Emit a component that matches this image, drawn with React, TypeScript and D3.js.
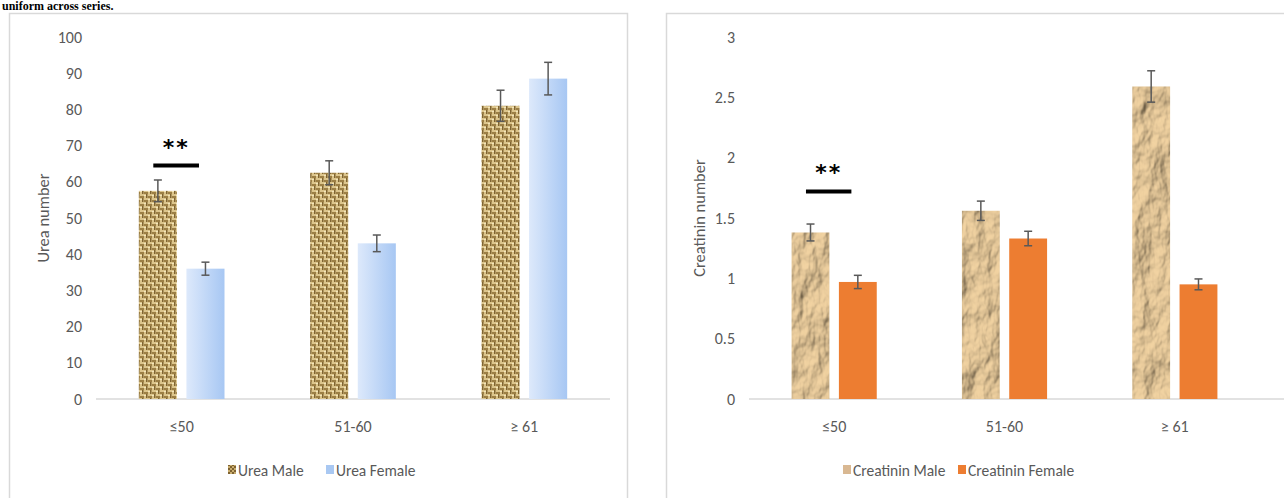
import React from "react";
import * as d3 from "d3";

const categories = ["≤50", "51-60", "≥ 61"];

const ureaMale = [57.5, 62.5, 81];
const ureaFemale = [36, 43, 88.5];
const ureaMaleErr = [3, 3.3, 4.3];
const ureaFemaleErr = [1.8, 2.3, 4.5];
const ureaTicks = [0, 10, 20, 30, 40, 50, 60, 70, 80, 90, 100];

const creaMale = [1.38, 1.56, 2.59];
const creaFemale = [0.97, 1.33, 0.95];
const creaMaleErr = [0.07, 0.08, 0.13];
const creaFemaleErr = [0.055, 0.06, 0.045];
const creaTicks = [0, 0.5, 1, 1.5, 2, 2.5, 3];

const FONT = "Carlito, Calibri, 'Open Sans', sans-serif";
const GREY = "#595959";

type PanelProps = {
  x0: number;
  x1: number;
  lineEnd: number;
  yMax: number;
  ticks: number[];
  male: number[];
  female: number[];
  maleErr: number[];
  femaleErr: number[];
  maleFill: string;
  femaleFill: string;
  maleFilter?: string;
  title: string;
  titleX: number;
  sigValue: number;
  legend: { male: string; female: string; mx: number; fx: number; maleSwatch: string; femaleSwatch: string };
};

function Panel(p: PanelProps) {
  const y = d3.scaleLinear().domain([0, p.yMax]).range([399, 37]);
  const x = d3.scaleBand<string>().domain(categories).range([p.x0, p.x1]).paddingInner(0).paddingOuter(0);
  const inner = d3.scaleBand<string>().domain(["m", "f"]).range([x.bandwidth() * 0.25, x.bandwidth() * 0.75]).paddingInner(0.2);
  const fmt = d3.format("~g");
  const sigX0 = (x(categories[0]) as number) + inner("m")! + inner.bandwidth() * 0.38;
  const sigX1 = sigX0 + inner.bandwidth() * 1.2;
  const err = (cx: number, v: number, e: number) => (
    <g stroke={GREY} strokeWidth={1.5}>
      <line x1={cx} x2={cx} y1={y(v + e)} y2={y(v - e)} />
      <line x1={cx - 4} x2={cx + 4} y1={y(v + e)} y2={y(v + e)} />
      <line x1={cx - 4} x2={cx + 4} y1={y(v - e)} y2={y(v - e)} />
    </g>
  );
  return (
    <g>
      {p.ticks.map((t) => (
        <text key={t} x={p.x0 - 14} y={y(t)} dy="0.35em" textAnchor="end" fontSize={16} fill={GREY} fontFamily={FONT}>
          {fmt(t)}
        </text>
      ))}
      <line x1={p.x0} x2={p.lineEnd} y1={y(0)} y2={y(0)} stroke="#d9d9d9" strokeWidth={1.5} />
      {categories.map((c, i) => {
        const bx = x(c) as number;
        const mx = bx + inner("m")!;
        const fx = bx + inner("f")!;
        const w = inner.bandwidth();
        return (
          <g key={c}>
            <rect x={mx} y={y(p.male[i])} width={w} height={y(0) - y(p.male[i])} fill={p.maleFill} filter={p.maleFilter} />
            <rect x={fx} y={y(p.female[i])} width={w} height={y(0) - y(p.female[i])} fill={p.femaleFill} />
            {err(mx + w / 2, p.male[i], p.maleErr[i])}
            {err(fx + w / 2, p.female[i], p.femaleErr[i])}
            <text x={bx + x.bandwidth() / 2} y={432} textAnchor="middle" fontSize={16} fill={GREY} fontFamily={FONT}>
              {c}
            </text>
          </g>
        );
      })}
      <line x1={sigX0} x2={sigX1} y1={y(p.sigValue)} y2={y(p.sigValue)} stroke="#000" strokeWidth={4} />
      <text x={(sigX0 + sigX1) / 2} y={y(p.sigValue) - 11} textAnchor="middle" fontSize={22} fontWeight="bold" fontFamily="'DejaVu Sans', sans-serif" fill="#000" letterSpacing={2}>
        **
      </text>
      <text transform={`translate(${p.titleX},218) rotate(-90)`} textAnchor="middle" fontSize={16.5} fill={GREY} fontFamily={FONT}>
        {p.title}
      </text>
      <g fontSize={15.5} fill={GREY} fontFamily={FONT}>
        <rect x={p.legend.mx} y={465} width={8} height={9} fill={p.legend.maleSwatch} />
        <text x={p.legend.mx + 10} y={476}>{p.legend.male}</text>
        <rect x={p.legend.fx} y={465} width={8} height={9} fill={p.legend.femaleSwatch} />
        <text x={p.legend.fx + 10} y={476}>{p.legend.female}</text>
      </g>
    </g>
  );
}

export default function App() {
  return (
    <svg width={1284} height={498} style={{ position: "absolute", left: 0, top: 0, background: "#fff" }}>
      <defs>
        <pattern id="burlap" width={8} height={8} patternUnits="userSpaceOnUse">
          <rect width={8} height={8} fill="#dcc58c" />
          <rect x={0} y={0} width={4} height={2} fill="#9c7f45" />
          <rect x={4} y={4} width={4} height={2} fill="#9c7f45" />
          <rect x={2} y={2} width={1.5} height={4} fill="#7f6431" />
          <rect x={6} y={6} width={1.5} height={4} fill="#7f6431" />
          <rect x={6} y={-2} width={1.5} height={4} fill="#7f6431" />
          <rect x={0} y={3} width={2} height={1} fill="#f3e6bd" />
          <rect x={4} y={7} width={2} height={1} fill="#f3e6bd" />
        </pattern>
        <pattern id="burlapSwatch" width={4} height={4} patternUnits="userSpaceOnUse">
          <rect width={4} height={4} fill="#c9ad6e" />
          <rect width={2} height={2} fill="#7e6230" />
          <rect x={2} y={2} width={2} height={2} fill="#7e6230" />
        </pattern>
        <linearGradient id="blueGrad" x1="0" x2="1" y1="0" y2="0">
          <stop offset="0" stopColor="#dde9fb" />
          <stop offset="1" stopColor="#a7c7f3" />
        </linearGradient>
        <filter id="crumple" x="0" y="0" width="1" height="1">
          <feTurbulence type="fractalNoise" baseFrequency="0.05 0.03" numOctaves={4} seed={7} result="noise" />
          <feDiffuseLighting in="noise" lightingColor="#f2d3a2" surfaceScale={6} result="lit">
            <feDistantLight azimuth={225} elevation={55} />
          </feDiffuseLighting>
          <feComposite in="lit" in2="SourceGraphic" operator="in" />
        </filter>
      </defs>
      <text x={2} y={10} fontSize={12} fontWeight="bold" fontFamily="'Liberation Serif', serif" fill="#000">
        uniform across series.
      </text>
      <rect x={9.5} y={13.5} width={618} height={500} fill="none" stroke="#d9d9d9" strokeWidth={1.5} />
      <rect x={666.5} y={13.5} width={630} height={500} fill="none" stroke="#d9d9d9" strokeWidth={1.5} />
      <Panel
        x0={96}
        x1={610}
        lineEnd={610}
        yMax={100}
        ticks={ureaTicks}
        male={ureaMale}
        female={ureaFemale}
        maleErr={ureaMaleErr}
        femaleErr={ureaFemaleErr}
        maleFill="url(#burlap)"
        femaleFill="url(#blueGrad)"
        title="Urea number"
        titleX={49}
        sigValue={64.5}
        legend={{ male: "Urea Male", female: "Urea Female", mx: 228, fx: 326, maleSwatch: "url(#burlapSwatch)", femaleSwatch: "#a9c8f2" }}
      />
      <Panel
        x0={749}
        x1={1260}
        lineEnd={1284}
        yMax={3}
        ticks={creaTicks}
        male={creaMale}
        female={creaFemale}
        maleErr={creaMaleErr}
        femaleErr={creaFemaleErr}
        maleFill="#c9a271"
        femaleFill="#ed7d31"
        maleFilter="url(#crumple)"
        title="Creatinin number"
        titleX={705}
        sigValue={1.72}
        legend={{ male: "Creatinin Male", female: "Creatinin Female", mx: 843, fx: 958, maleSwatch: "#d9b892", femaleSwatch: "#ed7d31" }}
      />
    </svg>
  );
}
